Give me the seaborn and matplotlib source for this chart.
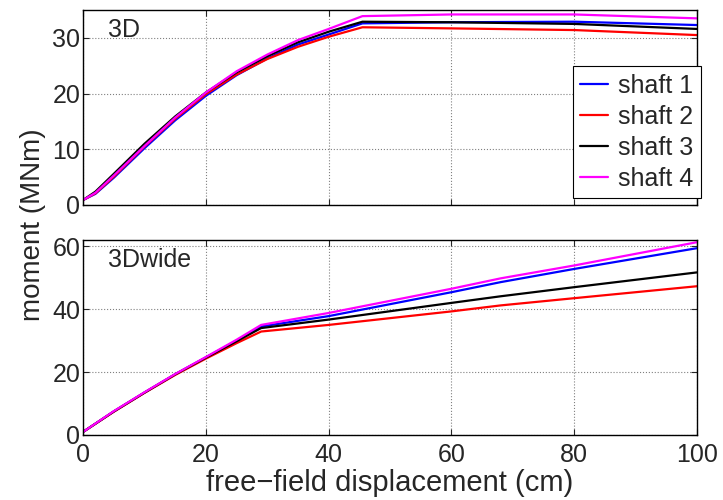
import numpy as np
import pandas as pd
import matplotlib
matplotlib.use("Agg")
import matplotlib.pyplot as plt
import seaborn as sns

# top panel (3D)
x_3d = [0, 2, 5, 10, 15, 20, 25, 30, 35, 40, 45.5, 60, 80, 100]
s1_3d = [0.9, 2.0, 4.9, 10.2, 15.2, 19.6, 23.3, 26.3, 28.8, 30.6, 32.6, 32.8, 32.9, 32.3]
s2_3d = [0.9, 2.1, 5.1, 10.5, 15.5, 19.9, 23.4, 26.2, 28.4, 30.2, 31.9, 31.7, 31.4, 30.5]
s3_3d = [0.9, 2.4, 5.6, 11.0, 15.9, 20.2, 23.8, 26.7, 29.2, 31.1, 32.9, 32.8, 32.5, 31.6]
s4_3d = [0.9, 2.2, 5.3, 10.6, 15.7, 20.2, 24.0, 27.0, 29.6, 31.6, 33.9, 34.2, 34.2, 33.5]

# bottom panel (3Dwide)
x_wide = [0, 5, 10, 15, 20, 25, 29, 40, 60, 68, 80, 100]
s1_wide = [1.0, 7.5, 13.5, 19.3, 24.7, 30.0, 34.5, 37.8, 45.4, 48.6, 52.8, 59.4]
s2_wide = [1.0, 7.4, 13.4, 19.1, 24.3, 29.2, 32.9, 35.0, 39.3, 41.2, 43.5, 47.3]
s3_wide = [1.0, 7.5, 13.5, 19.3, 24.6, 29.8, 34.0, 36.7, 42.0, 44.1, 47.0, 51.7]
s4_wide = [1.0, 7.6, 13.6, 19.4, 24.8, 30.3, 35.0, 38.8, 46.5, 49.8, 53.9, 61.3]

shafts = ["shaft 1", "shaft 2", "shaft 3", "shaft 4"]
colors = ["#0000ff", "#ff0000", "#000000", "#ff00ff"]


def long_df(x, series):
    rows = []
    for name, ys in zip(shafts, series):
        for xi, yi in zip(x, ys):
            rows.append({"disp": xi, "moment": yi, "shaft": name})
    return pd.DataFrame(rows)


df_3d = long_df(x_3d, [s1_3d, s2_3d, s3_3d, s4_3d])
df_wide = long_df(x_wide, [s1_wide, s2_wide, s3_wide, s4_wide])

sns.set_style("ticks")
plt.rcParams["font.family"] = ["Liberation Sans", "DejaVu Sans"]
plt.rcParams["xtick.direction"] = "in"
plt.rcParams["ytick.direction"] = "in"

fig = plt.figure(figsize=(7.23, 5.0), dpi=100)
ax1 = fig.add_axes([0.115, 0.59, 0.849, 0.39])
ax2 = fig.add_axes([0.115, 0.13, 0.849, 0.39])

pal = dict(zip(shafts, colors))
sns.lineplot(data=df_3d, x="disp", y="moment", hue="shaft", palette=pal,
             linewidth=1.6, ax=ax1, legend=True)
sns.lineplot(data=df_wide, x="disp", y="moment", hue="shaft", palette=pal,
             linewidth=1.6, ax=ax2, legend=False)

for ax in (ax1, ax2):
    ax.set_xlim(0, 100)
    ax.set_xticks([0, 20, 40, 60, 80, 100])
    ax.grid(True, linestyle=":", color="#808080", linewidth=0.8)
    ax.set_xlabel("")
    ax.set_ylabel("")
    ax.tick_params(labelsize=18, length=4, width=0.8, top=True, right=True, pad=2)
    ax.tick_params(axis="x", pad=6)
    for sp in ax.spines.values():
        sp.set_visible(True)
        sp.set_linewidth(1.0)
        sp.set_color("black")

ax1.set_ylim(0, 35)
ax1.set_yticks([0, 10, 20, 30])
ax1.set_xticklabels([])
ax2.set_ylim(0, 62)
ax2.set_yticks([0, 20, 40, 60])

ax1.text(0.04, 0.96, "3D", transform=ax1.transAxes, fontsize=18, va="top")
ax2.text(0.04, 0.96, "3Dwide", transform=ax2.transAxes, fontsize=18, va="top")

leg = ax1.legend(loc="lower right", bbox_to_anchor=(1.006, 0.035), fontsize=18,
                 frameon=True, fancybox=False, edgecolor="black", framealpha=1,
                 handlelength=1.1, handletextpad=0.4, borderpad=0.3, labelspacing=0.28,
                 borderaxespad=0)
leg.get_frame().set_linewidth(0.8)
leg.set_title(None)

ax2.set_xlabel("free\u2212field displacement (cm)", fontsize=21, labelpad=1)
fig.text(0.045, 0.55, "moment (MNm)", rotation=90, fontsize=20, ha="center", va="center")

fig.savefig("out.png", dpi=100)
